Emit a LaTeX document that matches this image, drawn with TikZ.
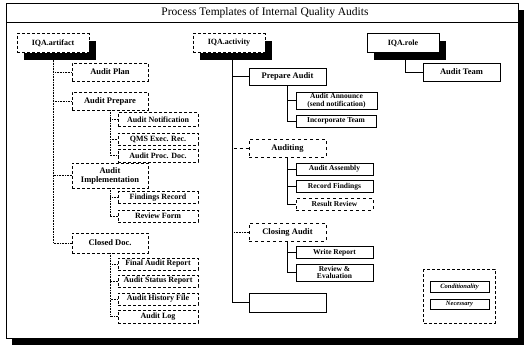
\documentclass[tikz,border=0pt]{standalone}
\usepackage{fontspec}
\setmainfont{Liberation Serif}

\tikzset{
  topbox/.style={draw, line width=0.7pt, fill=white, minimum width=72pt, minimum height=19pt,
    inner sep=0pt, font=\bfseries\fontsize{8}{9}\selectfont},
  topshadow/.style={fill=black},
  artbox/.style={draw, densely dashed, line width=0.5pt, fill=white, minimum width=76pt,
    inner sep=0pt, align=center, font=\bfseries\fontsize{8.5}{9}\selectfont},
  artsub/.style={artbox, minimum width=80pt, minimum height=12pt, font=\bfseries\fontsize{8}{9}\selectfont},
  nece/.style={draw, line width=0.8pt, fill=white, minimum width=77pt, minimum height=18pt,
    inner sep=0pt, align=center, font=\bfseries\fontsize{8.5}{9}\selectfont},
  cond/.style={nece, dashed},
  actsub/.style={nece, minimum width=77pt, minimum height=12pt, font=\bfseries\fontsize{7.5}{8.5}\selectfont},
  legbox/.style={draw, line width=0.9pt, minimum width=59pt, minimum height=11pt,
    inner sep=0pt, font=\bfseries\itshape\fontsize{6.5}{7}\selectfont},
  link/.style={line width=0.6pt},
  dlink/.style={line width=0.6pt, densely dotted}
}

\begin{document}
\begin{tikzpicture}[x=1pt, y=-1pt]
  \useasboundingbox (0,0) rectangle (527,351);

  % frame with its shadow and the title
  \fill[black] (12,10) rectangle (524,345);
  \draw[fill=white, line width=0.8pt] (6,3) rectangle (518,338);
  \draw[line width=0.8pt] (6,22) -- (518,22);
  \node[font=\fontsize{11.5}{12}\selectfont] (title) at (265,12.5) {Process Templates of Internal Quality Audits};

  % the three templates, shadows first
  \fill[topshadow] (24,40.5) rectangle (96,59.5);
  \fill[topshadow] (200,40.5) rectangle (272,59.5);
  \fill[topshadow] (374,40.5) rectangle (446,59.5);
  \node[topbox, densely dashed] (art) at (53,43) {IQA.artifact};
  \node[topbox, densely dashed] (act) at (229,43) {IQA.activity};
  \node[topbox] (role) at (403,43) {IQA.role};

  % artifacts
  \node[artbox, minimum height=18pt] (plan) at (110,72) {Audit Plan};
  \node[artbox, minimum height=18pt] (prep) at (110,101) {Audit Prepare};
  \node[artsub, minimum height=14pt] (notif) at (158,119.5) {Audit Notification};
  \node[artsub] (qms) at (158,139) {QMS Exec. Rec.};
  \node[artsub, minimum height=13pt] (proc) at (158,155.5) {Audit Proc. Doc.};
  \node[artbox, minimum height=25pt] (impl) at (110,175.5) {Audit\\Implementation};
  \node[artsub] (find) at (158,197.5) {Findings Record};
  \node[artsub] (form) at (158,216) {Review Form};
  \node[artbox, minimum height=20pt] (closed) at (110,243) {Closed Doc.};
  \node[artsub] (final) at (158,264) {Final Audit Report};
  \node[artsub] (status) at (158,281) {Audit Status Report};
  \node[artsub] (hist) at (158,299) {Audit History File};
  \node[artsub, minimum height=13pt] (alog) at (158,316.5) {Audit Log};

  \coordinate (artbot) at (53,59.5);
  \foreach \c in {plan,prep,impl,closed}
    \draw[dlink] (artbot) |- (\c.west);
  \foreach \c in {notif,qms,proc}
    \draw[dlink] (prep.south) |- (\c.west);
  \foreach \c in {find,form}
    \draw[dlink] (impl.south) |- (\c.west);
  \foreach \c in {final,status,hist,alog}
    \draw[dlink] (closed.south) |- (\c.west);

  % activities
  \node[nece, minimum height=17pt] (prepa) at (287.5,76.5) {Prepare Audit};
  \node[actsub, minimum width=81pt, minimum height=17pt, font=\bfseries\fontsize{7.5}{7.5}\selectfont] (ann) at (336.5,100.5) {Audit Announce\\(send notification)};
  \node[actsub, minimum width=80pt] (inc) at (336,121) {Incorporate Team};
  \node[cond] (audg) at (287.5,148) {Auditing};
  \node[actsub] (asm) at (334.5,169) {Audit Assembly};
  \node[actsub] (rec) at (334.5,186.5) {Record Findings};
  \node[actsub, dashed] (res) at (334.5,204) {Result Review};
  \node[cond] (clos) at (287.5,232) {Closing Audit};
  \node[actsub] (wr) at (334.5,252.5) {Write Report};
  \node[actsub, minimum height=17pt, font=\bfseries\fontsize{7.5}{7.5}\selectfont] (revw) at (334.5,272.5) {Review \&\\Evaluation};
  \node[nece, minimum height=19pt] (empty) at (287.5,302.5) {};

  \coordinate (actbot) at (232,59.5);
  \draw[link] (actbot) |- (empty.west);
  \draw[link] (actbot) |- (prepa.west);
  \draw[link, dashed] (actbot) |- (audg.west);
  \draw[dlink] (actbot) |- (clos.west);
  \foreach \c in {ann,inc}
    \draw[link] (prepa.south) |- (\c.west);
  \foreach \c in {asm,rec,res}
    \draw[link] (audg.south) |- (\c.west);
  \foreach \c in {wr,revw}
    \draw[link] (clos.south) |- (\c.west);

  % roles
  \node[nece, minimum height=18pt] (team) at (461.5,72) {Audit Team};
  \coordinate (rolebot) at (405,59.5);
  \draw[link] (rolebot) |- (team.west);

  % legend
  \draw[densely dashed, line width=0.5pt] (423,269) rectangle (495,323);
  \node[legbox] (condl) at (459.5,286.5) {Conditionality};
  \node[legbox, minimum height=10pt] (necl) at (459.5,304) {Necessary};
\end{tikzpicture}
\end{document}
